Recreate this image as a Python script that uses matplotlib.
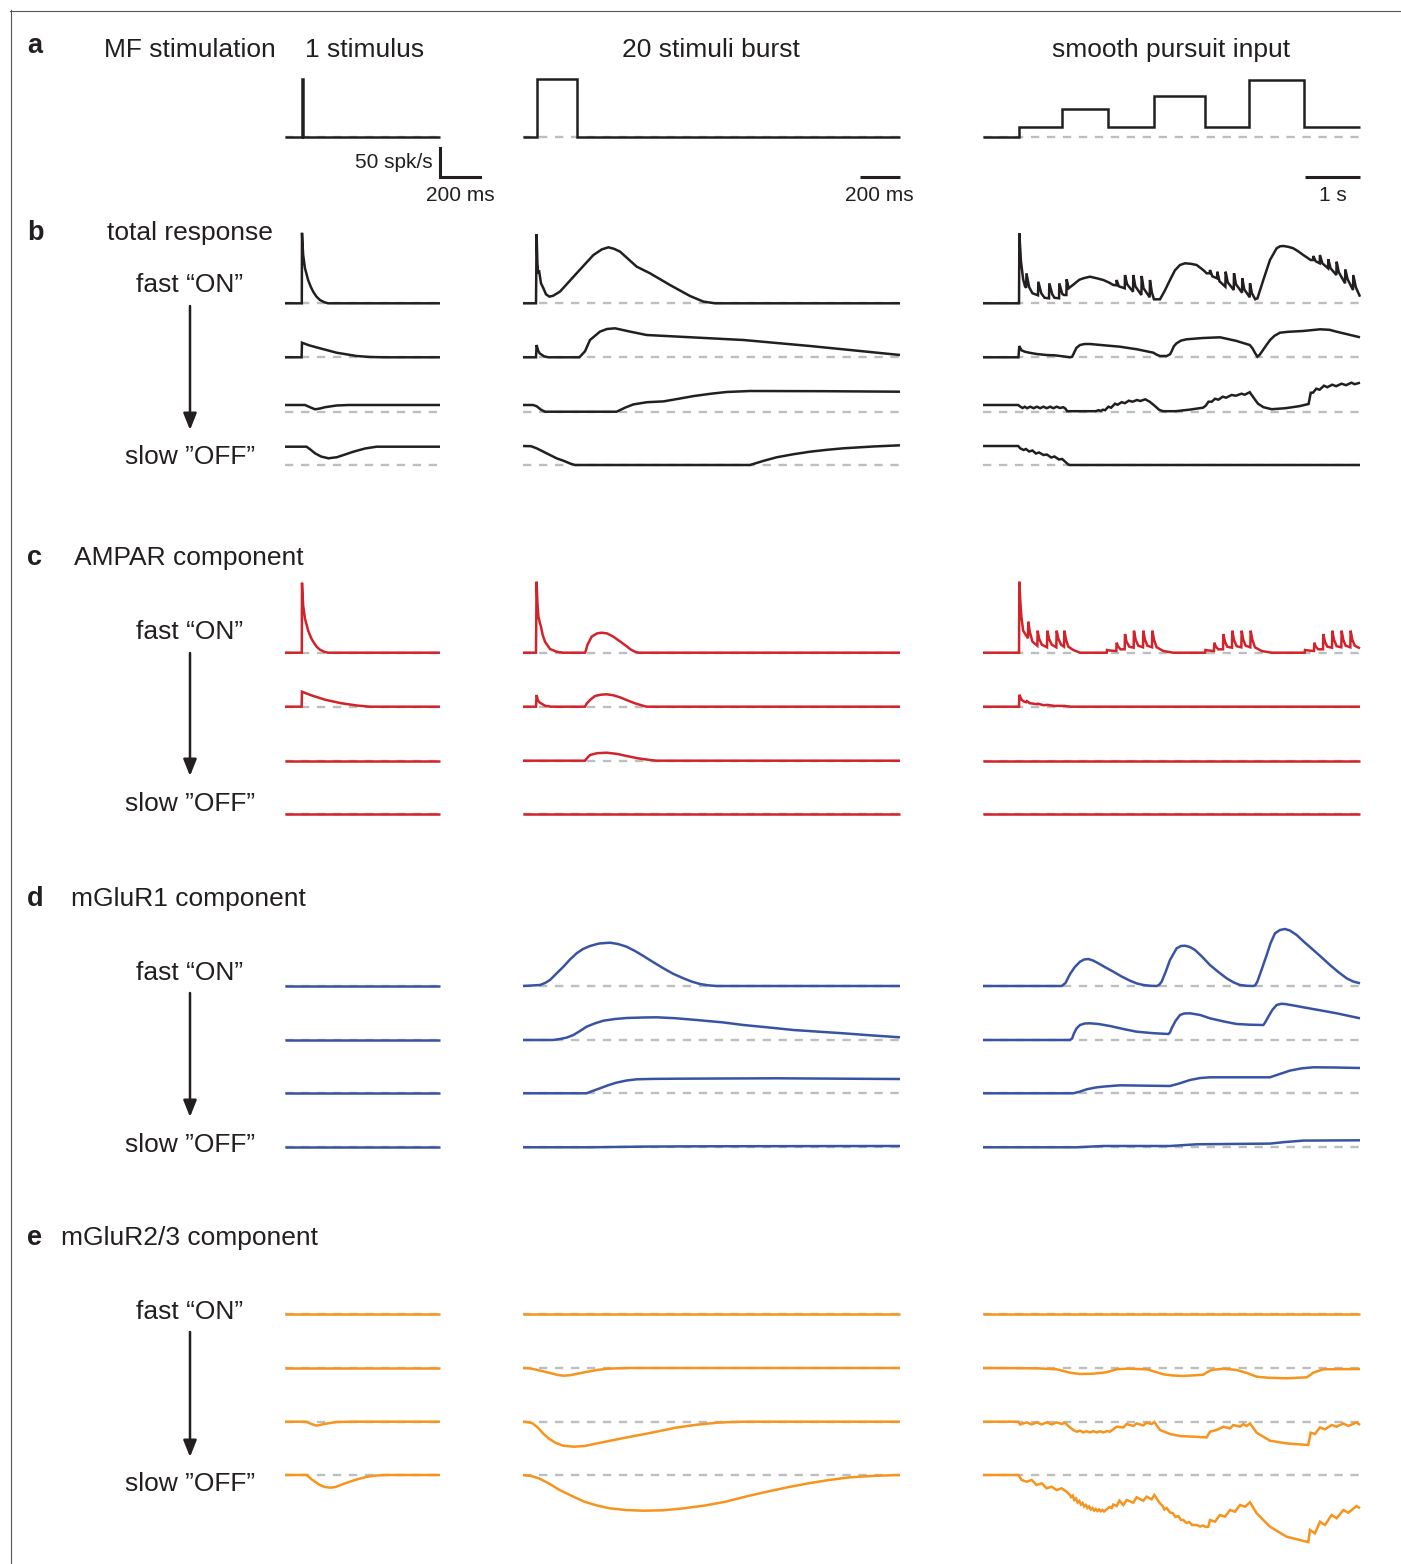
import matplotlib
matplotlib.use('Agg')
import matplotlib.pyplot as plt

W, H = 1401, 1564
plt.rcParams['font.family'] = ['Liberation Sans', 'DejaVu Sans']
plt.rcParams['lines.scale_dashes'] = False

# ---------------- time spans of the three columns ----------------
T_ONE = 775.0      # ms  (1 stimulus)
T_BURST = 1885.0   # ms  (20 stimuli burst)
T_SP = 6.855       # s   (smooth pursuit input)

# ---------------- a: MF stimulation (spk/s) ----------------
stim_one_t = [0, 84, 84, 89, 89, T_ONE]
stim_one_r = [0, 0, 100, 100, 0, 0]
stim_burst_t = [0, 70, 70, 270, 270, T_BURST]
stim_burst_r = [0, 0, 100, 100, 0, 0]
stim_sp_t = [0, 0.655, 1.43, 2.27, 3.11, 4.04, 4.84, 5.84, T_SP]
stim_sp_r = [0, 16, 48, 16, 70, 16, 98, 16, 16]

flat_one_t = [0, T_ONE]
flat_burst_t = [0, T_BURST]
flat_sp_t = [0, T_SP]
flat_a = [0, 0]

# ---------------- b: total response (a.u.) ----------------
tot1_one_t = [0, 84, 85, 88, 91, 100, 116, 130, 141, 158, 175, 195, 215, T_ONE]
tot1_one_a = [0, 0, 70.5, 58, 48, 35, 23, 16, 11.6, 6.5, 3.3, 1.2, 0, 0]
tot2_one_t = [0, 83, 85, 120, 175, 258, 358, 425, 500, T_ONE]
tot2_one_a = [0, 0, 14.6, 12, 9, 4.6, 1.3, 0.3, 0, 0]
tot3_one_t = [0, 100, 125, 150, 175, 200, 258, 320, T_ONE]
tot3_one_a = [6.7, 6.7, 4.5, 2.4, 3.2, 4.5, 6.2, 6.7, 6.7]
tot4_one_t = [0, 108, 130, 150, 180, 217, 260, 342, 400, 458, T_ONE]
tot4_one_a = [18.3, 18.3, 15, 11.7, 8.5, 6.7, 7.8, 13.3, 16.5, 18.3, 18.3]

tot1_burst_t = [0, 65, 68, 72, 76, 80, 90, 102, 115, 132, 150, 185, 268, 352, 395, 427,
                455, 485, 568, 635, 735, 835, 902, 960, T_BURST]
tot1_burst_a = [0, 0, 69.3, 40, 30, 33, 20, 15, 9, 6.7, 7.5, 11.7, 30, 48.3, 54, 56,
                54.5, 51.7, 36.7, 30, 18.3, 7.3, 1.7, 0, 0]
tot2_burst_t = [0, 65, 68, 75, 83, 105, 127, 282, 310, 335, 385, 420, 460, 535, 618,
                1102, 1435, T_BURST]
tot2_burst_a = [0, 0, 12.3, 7, 4, 1, 0, 0, 6, 17.3, 25.7, 28.3, 29, 25.7, 22.3,
                17.3, 11.3, 2.3]
tot3_burst_t = [0, 50, 68, 90, 110, 468, 510, 552, 620, 702, 780, 852, 940, 1018, 1135,
                1500, T_BURST]
tot3_burst_a = [6.7, 6.7, 5.5, 2, 0, 0, 4, 7.3, 9.5, 10.3, 13, 15.6, 18, 19.7, 20.7,
                20.5, 20]
tot4_burst_t = [0, 40, 68, 100, 135, 170, 202, 235, 260, 1135, 1200, 1268, 1350, 1435,
                1520, 1602, 1750, T_BURST]
tot4_burst_a = [19, 18.8, 16.7, 13.5, 10, 6.5, 4.3, 1.5, 0, 0, 4, 7.7, 10.7, 13.3,
                15.2, 16.7, 18.5, 19.7]

tot1_sp_t = [0, 0.655, 0.661, 0.69, 0.73, 0.764, 0.785, 0.79, 0.84, 0.90, 1.0, 1.006,
             1.06, 1.12, 1.20, 1.206, 1.26, 1.30, 1.383, 1.388, 1.44, 1.47, 1.516, 1.521,
             1.558, 1.65, 1.75, 1.824, 1.945, 2.07, 2.188, 2.30, 2.37, 2.425, 2.43, 2.47,
             2.577, 2.582, 2.62, 2.728, 2.733, 2.77, 2.88, 2.885, 2.92, 3.031, 3.036,
             3.07, 3.109, 3.218, 3.30, 3.40, 3.49, 3.582, 3.673, 3.78, 3.885, 4.0, 4.067,
             4.122, 4.127, 4.17, 4.256, 4.261, 4.30, 4.407, 4.412, 4.45, 4.559, 4.564,
             4.60, 4.71, 4.715, 4.75, 4.85, 4.855, 4.89, 4.95, 4.99, 5.097, 5.218, 5.339,
             5.40, 5.461, 5.55, 5.642, 5.73, 5.824, 5.958, 6.0, 6.006, 6.05, 6.122,
             6.127, 6.17, 6.274, 6.279, 6.32, 6.425, 6.43, 6.47, 6.583, 6.588, 6.63,
             6.728, 6.733, 6.78, T_SP]
tot1_sp_a = [0, 0, 70, 42, 24, 17, 15.5, 30, 16, 10, 8, 21.6,
             10, 5.5, 5, 20, 9, 5.5, 5, 20, 9.5, 8.3, 8.3, 24,
             15, 19, 23.5, 25, 26.6, 25, 23.3, 20.5, 18.3, 18, 23.3, 17,
             15, 28.3, 19, 11.6, 28.3, 17, 8.3, 27.3, 15, 6, 23.3,
             11, 4, 4, 12, 23.3, 33, 38.3, 40, 39.5, 38.3, 33.5, 30,
             30, 33.3, 27, 25, 31.6, 22, 16.6, 31.6, 21, 13.3, 30,
             19, 10.6, 25, 14, 6, 20, 10, 4, 5, 23.3, 43.3, 55,
             57, 57.3, 56.5, 55, 52, 48.3, 43.3, 43.3, 47.3, 42, 40,
             48.3, 40, 35, 44, 35, 28.3, 41.6, 31, 20, 34, 24,
             13.3, 28.3, 16, 6.6]
tot2_sp_t = [0, 0.645, 0.66, 0.70, 0.76, 0.85, 0.976, 1.15, 1.30, 1.45, 1.58, 1.62, 1.66,
             1.70, 1.764, 1.85, 1.945, 2.2, 2.49, 2.8, 3.10, 3.16, 3.22, 3.34, 3.40, 3.43,
             3.47, 3.52, 3.60, 3.70, 4.0, 4.31, 4.6, 4.85, 4.90, 4.95, 4.99, 5.03, 5.07,
             5.15, 5.22, 5.30, 5.40, 5.55, 5.82, 6.13, 6.30, 6.43, T_SP]
tot2_sp_a = [0, 0, 11.3, 7, 5.6, 4.5, 3.3, 2.3, 2, 1, 0, 0.5, 5,
             9.5, 12.3, 13.3, 13.3, 12, 10.6, 8, 4.6, 2.5, 1.3, 1.3, 3, 6,
             11, 14, 16.7, 18, 19.3, 20, 16.5, 12.3, 9, 4, 0.6, 2.5, 5.6,
             12, 17.3, 21.5, 24.6, 25.5, 26.3, 28, 27.5, 25.6, 20]
tot3_sp_t = [0, 0.64, 0.68, 0.72, 0.76, 0.8, 0.86, 0.92, 0.98, 1.04, 1.1, 1.16, 1.22,
             1.28, 1.34, 1.40, 1.46, 1.50, 1.53, 2.05, 2.10, 2.14, 2.18, 2.22, 2.28, 2.33,
             2.40, 2.45, 2.52, 2.58, 2.65, 2.72, 2.80, 2.86, 2.95, 3.03, 3.12, 3.2, 3.27,
             3.5, 3.75, 4.0, 4.05, 4.1, 4.16, 4.22, 4.28, 4.36, 4.42, 4.52, 4.6, 4.7, 4.76,
             4.85, 4.92, 5.0, 5.1, 5.25, 5.5, 5.75, 5.92, 5.96, 6.0, 6.06, 6.12, 6.2,
             6.26, 6.35, 6.42, 6.52, 6.6, 6.7, 6.76, T_SP]
tot3_sp_a = [6.7, 6.7, 5, 3.7, 5, 3.5, 5, 3.5, 5, 3.5, 5, 3.5, 5,
             3.5, 5, 3.7, 4.5, 3, 0.5, 0.5, 1.5, 0.8, 2, 1.5, 5, 4,
             8, 7, 9.5, 8.5, 11, 10, 11.7, 10.7, 12.4, 10, 6, 2, 0.5,
             0.5, 2, 4, 6, 10, 10, 13, 12, 15, 14, 16.7, 16, 18, 17,
             19.5, 14, 8, 4.5, 2.5, 3.5, 5.5, 7.7, 19, 19, 23, 22, 26,
             24.5, 27, 25.5, 28, 26.5, 29, 27.5, 29]
tot4_sp_t = [0, 0.64, 0.68, 0.74, 0.78, 0.84, 0.9, 0.96, 1.02, 1.1, 1.16, 1.24, 1.30,
             1.38, 1.44, 1.50, 1.55, 1.58, T_SP]
tot4_sp_a = [19, 19, 16.5, 15, 16, 13.5, 14.5, 11.5, 12.5, 10, 10.5, 7.5, 8.5,
             5.5, 6, 3, 0.5, 0, 0]

# ---------------- c: AMPAR component ----------------
ampa1_one_t = [0, 84, 85, 88, 91, 100, 116, 130, 141, 158, 175, 195, 215, T_ONE]
ampa1_one_a = [0, 0, 70, 57, 47, 34, 22, 15, 11, 6, 3, 1, 0, 0]
ampa2_one_t = [0, 83, 85, 130, 200, 280, 360, 425, T_ONE]
ampa2_one_a = [0, 0, 15, 11.5, 7, 3.5, 1.2, 0, 0]

ampa1_burst_t = [0, 65, 68, 72, 77, 85, 90, 98, 110, 135, 168, 200, 310, 315, 322, 343,
                 370, 393, 420, 452, 480, 510, 540, 560, 577, T_BURST]
ampa1_burst_a = [0, 0, 71, 50, 36, 29.4, 26, 18, 11, 3.7, 1, 0, 0, 2.5, 7.7, 16,
                 19.3, 20, 19.3, 16, 12, 7.7, 3, 1, 0, 0]
ampa2_burst_t = [0, 65, 68, 75, 85, 110, 140, 310, 318, 335, 360, 390, 418, 450, 485,
                 520, 560, 600, 618, T_BURST]
ampa2_burst_a = [0, 0, 11.7, 6, 4, 1, 0, 0, 3, 6.7, 10.7, 12, 12.4, 11.5, 9.4,
                 6.5, 3.4, 1, 0, 0]
ampa3_burst_t = [0, 310, 320, 335, 370, 418, 470, 518, 580, 635, 668, T_BURST]
ampa3_burst_a = [0, 0, 2.5, 5.7, 7.5, 8, 6.8, 4.7, 2.2, 0.7, 0, 0]

ampa1_sp_t = [0, 0.655, 0.661, 0.68, 0.70, 0.73, 0.818, 0.824, 0.85, 0.90, 0.988, 0.994,
              1.02, 1.07, 1.164, 1.17, 1.20, 1.25, 1.333, 1.339, 1.37, 1.42, 1.473,
              1.479, 1.51, 1.552, 1.642, 1.764, 2.25, 2.255, 2.30, 2.424, 2.43, 2.46,
              2.50, 2.576, 2.582, 2.61, 2.661, 2.739, 2.745, 2.775, 2.824, 2.909, 2.915,
              2.945, 2.99, 3.073, 3.079, 3.11, 3.158, 3.279, 3.46, 4.04, 4.045, 4.10,
              4.20, 4.206, 4.235, 4.279, 4.364, 4.37, 4.40, 4.442, 4.527, 4.533, 4.563,
              4.612, 4.697, 4.703, 4.733, 4.776, 4.861, 4.867, 4.897, 4.945, 5.067, 5.248,
              5.85, 5.855, 5.92, 6.018, 6.024, 6.05, 6.097, 6.182, 6.188, 6.218, 6.261,
              6.346, 6.352, 6.382, 6.43, 6.515, 6.521, 6.551, 6.594, 6.679, 6.685, 6.715,
              6.76, T_SP]
ampa1_sp_a = [0, 0, 71, 50, 35, 22, 14.4, 31, 21, 11, 7, 22,
              14, 8, 5.4, 22, 14, 8, 5.4, 22, 14, 8, 6,
              22, 13, 6, 2.7, 0, 0, 2.7, 2.2, 1.7, 10, 6,
              3.4, 3.4, 18.7, 11, 6, 5, 22, 13, 7, 5.4, 22,
              13, 7, 5.4, 22, 13, 5.4, 1.7, 0, 0, 2.7, 2.2,
              1.7, 10, 6, 3.4, 3.4, 18.7, 11, 6, 5, 22, 13,
              6.5, 5.4, 22, 13, 7, 5.4, 22, 13, 5.4, 1.7, 0,
              0, 2.7, 2.2, 1.7, 10, 6, 3.4, 3.4, 18.7, 11, 6,
              5, 22, 13, 6.5, 5.4, 22, 13, 7, 5.4, 22, 13,
              7, 4.4]
ampa2_sp_t = [0, 0.655, 0.661, 0.70, 0.75, 0.79, 0.80, 0.85, 0.99, 1.0, 1.1, 1.17, 1.3,
              1.48, 1.6, T_SP]
ampa2_sp_a = [0, 0, 12, 7, 5, 4.5, 5.5, 3.5, 2.5, 3, 1.5, 1.8, 0.8, 0.8, 0, 0]

# ---------------- d: mGluR1 component ----------------
mglu1_1_burst_t = [0, 85, 110, 135, 170, 202, 235, 268, 300, 335, 380, 435, 475, 518, 560,
                   602, 650, 702, 750, 802, 845, 885, 925, 968, T_BURST]
mglu1_1_burst_a = [0, 1, 3, 6, 13, 19.3, 26.5, 32.7, 37, 40, 42.5, 43.3, 42, 39.3, 35,
                   30, 24, 17.7, 12.3, 7.7, 4.3, 2, 0.7, 0, 0]
mglu1_2_burst_t = [0, 150, 185, 220, 252, 285, 318, 360, 402, 460, 518, 600, 668, 760, 868,
                   1000, 1102, 1230, 1352, 1480, 1602, 1750, T_BURST]
mglu1_2_burst_a = [0, 0, 1, 2.5, 5, 9, 13.3, 16.7, 19.3, 21, 22, 22.5, 22.7, 21.8, 20,
                   17.6, 15, 12.5, 10, 8.3, 6.7, 4.5, 2.7]
mglu1_3_burst_t = [0, 318, 350, 385, 425, 468, 518, 568, 650, 768, 1000, 1268, 1600, T_BURST]
mglu1_3_burst_a = [0, 0, 2.5, 5, 8, 10.7, 12.8, 14, 14.4, 14.6, 14.8, 15, 14.6, 14.3]
mglu1_4_burst_t = [0, 340, 450, 602, 800, 935, 1200, 1500, T_BURST]
mglu1_4_burst_a = [0, 0, 0.3, 0.7, 0.9, 1, 1.1, 1.2, 1.3]

mglu1_1_sp_t = [0, 1.43, 1.50, 1.582, 1.67, 1.764, 1.84, 1.915, 2.0, 2.097, 2.23, 2.37,
                2.52, 2.673, 2.80, 2.915, 3.05, 3.158, 3.2, 3.248, 3.32, 3.4, 3.521, 3.60,
                3.673, 3.76, 3.855, 3.98, 4.127, 4.28, 4.43, 4.56, 4.673, 4.80, 4.915,
                4.95, 4.988, 5.07, 5.158, 5.23, 5.309, 5.40, 5.491, 5.58, 5.703, 5.85,
                6.006, 6.16, 6.309, 6.46, 6.612, 6.73, T_SP]
mglu1_1_sp_a = [0, 0, 3, 12, 19, 24.3, 26.5, 27, 25.5, 22.7, 18.5, 14.3,
                9.5, 5.3, 2.5, 1, 0.2, 0, 1, 4.3, 14, 26, 37.7, 40,
                40.3, 39, 36, 29.5, 21, 14, 7.7, 3.5, 1, 0.2, 0,
                0.8, 4.3, 17, 31, 43, 52.7, 56, 57, 55.5, 51, 43.5,
                36, 28.5, 21, 14, 7.7, 4.5, 2.7]
mglu1_2_sp_t = [0, 1.582, 1.62, 1.655, 1.70, 1.764, 1.85, 1.945, 2.1, 2.309, 2.55, 2.794,
                3.1, 3.37, 3.40, 3.43, 3.50, 3.582, 3.66, 3.764, 3.95, 4.127, 4.38, 4.612,
                4.85, 5.097, 5.13, 5.188, 5.26, 5.339, 5.42, 5.491, 5.65, 5.824, 6.1,
                6.43, T_SP]
mglu1_2_sp_a = [0, 0, 1.5, 6.7, 11.5, 15, 16.5, 16.7, 16, 14, 11, 8.3,
                6.8, 6, 7.5, 11.7, 19, 25, 26.5, 26.7, 25, 21.7, 18.5, 16,
                15.3, 15, 17.5, 23.3, 30, 35, 36.2, 36, 34.5, 32.7, 30,
                26.7, 21.7]
mglu1_3_sp_t = [0, 1.642, 1.75, 1.885, 2.05, 2.188, 2.491, 3.0, 3.4, 3.55, 3.764, 3.95,
                4.127, 4.6, 5.218, 5.38, 5.582, 5.8, 6.006, 6.4, T_SP]
mglu1_3_sp_a = [0, 0, 1.5, 4, 5.8, 6.7, 8, 7.6, 7.3, 9.5, 13.3, 15.3,
                16, 16, 16, 19, 22.7, 25, 26, 25.8, 25.3]
mglu1_4_sp_t = [0, 1.703, 2.0, 2.188, 3.4, 3.65, 3.885, 5.218, 5.5, 5.824, T_SP]
mglu1_4_sp_a = [0, 0, 0.8, 1.3, 1.3, 2.2, 3, 3.7, 5.3, 6.7, 7]

# ---------------- e: mGluR2/3 component ----------------
mglu23_3_one_t = [0, 105, 133, 158, 195, 257, 340, T_ONE]
mglu23_3_one_a = [0, 0, -2.3, -4, -2.3, -0.3, 0, 0]
mglu23_4_one_t = [0, 108, 133, 174, 200, 226, 252, 278, 320, 361, 400, 444, 506, T_ONE]
mglu23_4_one_a = [0, 0, -4.3, -10, -12, -12.7, -12, -10, -7, -4.3, -2.2, -0.7, 0, 0]

mglu23_2_burst_t = [0, 30, 58, 100, 141, 175, 203, 235, 266, 320, 369, 420, 473, 535, T_BURST]
mglu23_2_burst_a = [0, -0.3, -1.3, -3.3, -5.3, -7, -7.7, -7.2, -6, -3.8, -2, -0.8, -0.3, 0, 0]
mglu23_3_burst_t = [0, 25, 48, 75, 100, 130, 162, 200, 255, 307, 400, 494, 630, 764, 870,
                    971, 1040, 1116, T_BURST]
mglu23_3_burst_a = [0, -0.5, -1.7, -6, -11.7, -17, -21, -24, -25, -24.3, -20.5, -16.7,
                    -11.5, -6, -3, -1, -0.3, 0, 0]
mglu23_4_burst_t = [0, 40, 79, 130, 183, 245, 307, 370, 432, 515, 598, 700, 805, 910, 1013,
                    1115, 1220, 1325, 1428, 1530, 1635, 1760, T_BURST]
mglu23_4_burst_a = [0, -1, -3.3, -8.5, -15, -21, -26.7, -30.5, -33.3, -35, -35.7, -35.3,
                    -33.3, -30.5, -26.7, -21.5, -16.7, -12.2, -8.3, -5, -2.3, -0.8, 0]

mglu23_2_sp_t = [0, 0.976, 1.339, 1.46, 1.582, 1.764, 2.0, 2.248, 2.43, 2.612, 2.976, 3.1,
                 3.279, 3.45, 3.642, 4.006, 4.08, 4.158, 4.37, 4.612, 4.8, 4.976, 5.2,
                 5.521, 5.885, 5.95, 6.006, 6.188, T_SP]
mglu23_2_sp_a = [0, -0.3, -1.3, -3, -4.7, -6, -5.7, -4.3, -1.3, -0.7, -1.3, -3.3,
                 -6.3, -7.5, -8, -6.7, -4, -2, -0.7, -2, -5, -8.7, -9.8,
                 -10.3, -9.3, -7, -4.7, -1.3, -1]
mglu23_3_sp_t = [0, 0.642, 0.673, 0.794, 0.885, 0.976, 1.067, 1.158, 1.248, 1.339, 1.43,
                 1.491, 1.552, 1.642, 1.703, 1.764, 1.824, 1.885, 1.945, 2.006, 2.067,
                 2.127, 2.188, 2.248, 2.309, 2.43, 2.552, 2.612, 2.733, 2.794, 2.915,
                 2.976, 3.067, 3.115, 3.218, 3.4, 3.582, 4.067, 4.127, 4.248, 4.37, 4.491,
                 4.552, 4.673, 4.733, 4.794, 4.855, 4.976, 5.218, 5.521, 5.915, 5.958,
                 6.036, 6.127, 6.218, 6.339, 6.43, 6.552, 6.642, 6.794, T_SP]
mglu23_3_sp_a = [0, 0, -2.7, -0.7, -2.7, -0.7, -2.7, -0.7, -2.7, -0.7, -2.3,
                 -1, -4.3, -8.3, -10, -9, -10.7, -9.5, -10.7, -9.5, -10.7,
                 -9.5, -10.7, -9.5, -10, -5, -5.7, -2.3, -4.3, -1.7, -3.7,
                 -1, -2.3, -0.3, -8.3, -12.3, -14.3, -15.7, -10, -8.3, -5, -6.7,
                 -3.3, -5, -2.3, -4.3, -1.7, -11, -19, -21.7, -23.3, -11,
                 -12.3, -5.7, -7.7, -3.3, -5, -1.7, -4.3, -0.7, -3.3]
mglu23_4_sp_t = [0, 0.642, 0.703, 0.794, 0.885, 0.976, 1.067, 1.158, 1.248, 1.339, 1.43,
                 1.521, 1.582, 1.60, 1.63, 1.66, 1.69, 1.72, 1.75, 1.78, 1.81, 1.84, 1.87,
                 1.90, 1.93, 1.96, 1.99, 2.02, 2.05, 2.08, 2.11, 2.14, 2.17, 2.20, 2.25,
                 2.30, 2.34, 2.37, 2.43, 2.48, 2.552, 2.612, 2.733, 2.794, 2.915, 2.976,
                 3.067, 3.115, 3.218, 3.26, 3.30, 3.34, 3.4, 3.45, 3.50, 3.55, 3.60, 3.642,
                 3.70, 3.75, 3.80, 3.885, 3.95, 4.0, 4.05, 4.097, 4.127, 4.218, 4.309,
                 4.4, 4.491, 4.582, 4.673, 4.764, 4.855, 4.976, 5.218, 5.521, 5.885,
                 5.915, 5.945, 6.036, 6.127, 6.218, 6.339, 6.43, 6.552, 6.642, 6.794, T_SP]
mglu23_4_sp_a = [0, 0, -5, -6.7, -5, -10, -8.3, -13.3, -11.7, -15, -13.3,
                 -16.7, -20, -22, -20.5, -25, -23.5, -27.5, -26, -29.5, -28, -31.5, -30,
                 -33, -31.5, -34.5, -33, -35.5, -34, -36, -34.5, -36.3, -35, -36.5, -34.3,
                 -32, -33, -29.5, -31, -25.7, -30, -25, -27.7, -22.3, -25.7, -21.7,
                 -24.3, -20, -28.3, -30.5, -34.5, -33, -37.5, -38, -42, -41, -45, -45,
                 -48, -47, -50, -50, -51.5, -50.5, -52, -51.7, -45, -46.7, -40,
                 -41.7, -35, -36.7, -30, -31.7, -27.3, -38.3, -51.7, -61.7, -66.7,
                 -67, -55, -58.3, -46.7, -50, -40, -43.3, -35, -37.7, -31, -33.3]

# ---------------- layout / style ----------------
BLACK, RED, BLUE, ORANGE, DASH = '#231f20', '#d2232a', '#3953a4', '#f7941d', '#bcbec0'
COLS = [(285, 440, T_ONE), (523, 900, T_BURST), (983, 1360, T_SP)]
STIM_BASE = 136.5
PX_PER_SPK = 29 / 50.0
SEC_BASE = {
    'b': [303.3, 357.3, 411.7, 465.0],
    'c': [652.7, 706.7, 760.7, 814.0],
    'd': [986.0, 1040.0, 1093.3, 1147.3],
    'e': [1314.0, 1368.0, 1421.7, 1475.0],
}
LW = 1.8

fig = plt.figure(figsize=(W / 100, H / 100), dpi=100)
ov = fig.add_axes([0, 0, 1, 1])
ov.set_xlim(0, W)
ov.set_ylim(H, 0)
ov.axis('off')

col_axes = []
for x0, x1, T in COLS:
    ax = fig.add_axes([x0 / W, 0, (x1 - x0) / W, 1])
    ax.set_xlim(0, T)
    ax.set_ylim(H, 0)
    ax.axis('off')
    col_axes.append(ax)


def draw(ci, base, t, a, color, scale=1.0, step=False):
    ax = col_axes[ci]
    T = COLS[ci][2]
    ax.plot([0, T], [base, base], color=DASH, lw=1.7, ls=(0, (6.0, 5.5)),
            zorder=1, clip_on=False, solid_capstyle='butt', dash_capstyle='butt')
    ys = [base - v * scale for v in a]
    ax.plot(t, ys, color=color, lw=LW, zorder=2, clip_on=False,
            drawstyle='steps-post' if step else 'default',
            solid_joinstyle='miter', solid_capstyle='butt')


# row a
draw(0, STIM_BASE, stim_one_t, stim_one_r, BLACK, PX_PER_SPK)
draw(1, STIM_BASE, stim_burst_t, stim_burst_r, BLACK, PX_PER_SPK)
draw(2, STIM_BASE, stim_sp_t, stim_sp_r, BLACK, PX_PER_SPK, step=True)

traces = {
    'b': (BLACK, [
        [(tot1_one_t, tot1_one_a), (tot1_burst_t, tot1_burst_a), (tot1_sp_t, tot1_sp_a)],
        [(tot2_one_t, tot2_one_a), (tot2_burst_t, tot2_burst_a), (tot2_sp_t, tot2_sp_a)],
        [(tot3_one_t, tot3_one_a), (tot3_burst_t, tot3_burst_a), (tot3_sp_t, tot3_sp_a)],
        [(tot4_one_t, tot4_one_a), (tot4_burst_t, tot4_burst_a), (tot4_sp_t, tot4_sp_a)]]),
    'c': (RED, [
        [(ampa1_one_t, ampa1_one_a), (ampa1_burst_t, ampa1_burst_a), (ampa1_sp_t, ampa1_sp_a)],
        [(ampa2_one_t, ampa2_one_a), (ampa2_burst_t, ampa2_burst_a), (ampa2_sp_t, ampa2_sp_a)],
        [(flat_one_t, flat_a), (ampa3_burst_t, ampa3_burst_a), (flat_sp_t, flat_a)],
        [(flat_one_t, flat_a), (flat_burst_t, flat_a), (flat_sp_t, flat_a)]]),
    'd': (BLUE, [
        [(flat_one_t, flat_a), (mglu1_1_burst_t, mglu1_1_burst_a), (mglu1_1_sp_t, mglu1_1_sp_a)],
        [(flat_one_t, flat_a), (mglu1_2_burst_t, mglu1_2_burst_a), (mglu1_2_sp_t, mglu1_2_sp_a)],
        [(flat_one_t, flat_a), (mglu1_3_burst_t, mglu1_3_burst_a), (mglu1_3_sp_t, mglu1_3_sp_a)],
        [(flat_one_t, flat_a), (mglu1_4_burst_t, mglu1_4_burst_a), (mglu1_4_sp_t, mglu1_4_sp_a)]]),
    'e': (ORANGE, [
        [(flat_one_t, flat_a), (flat_burst_t, flat_a), (flat_sp_t, flat_a)],
        [(flat_one_t, flat_a), (mglu23_2_burst_t, mglu23_2_burst_a), (mglu23_2_sp_t, mglu23_2_sp_a)],
        [(mglu23_3_one_t, mglu23_3_one_a), (mglu23_3_burst_t, mglu23_3_burst_a), (mglu23_3_sp_t, mglu23_3_sp_a)],
        [(mglu23_4_one_t, mglu23_4_one_a), (mglu23_4_burst_t, mglu23_4_burst_a), (mglu23_4_sp_t, mglu23_4_sp_a)]]),
}
for sec, (color, rows) in traces.items():
    for ri, row in enumerate(rows):
        for ci, (t, a) in enumerate(row):
            draw(ci, SEC_BASE[sec][ri], t, a, color)

# scale bars
bar_y = 177
col_axes[0].plot([T_ONE, T_ONE, T_ONE + 200], [bar_y - 50 * PX_PER_SPK, bar_y, bar_y],
                 color=BLACK, lw=2.2, clip_on=False, solid_joinstyle='miter')
col_axes[1].plot([T_BURST - 200, T_BURST], [bar_y, bar_y], color=BLACK, lw=2.2,
                 clip_on=False, solid_capstyle='butt')
col_axes[2].plot([T_SP - 1.0, T_SP], [bar_y, bar_y], color=BLACK, lw=2.2,
                 clip_on=False, solid_capstyle='butt')

FS = 19
FS_SMALL = 15
TXT = '#231f20'
ov.text(433, 168, '50 spk/s', fontsize=FS_SMALL, ha='right', va='baseline', color=TXT)
ov.text(460, 201, '200 ms', fontsize=FS_SMALL, ha='center', va='baseline', color=TXT)
ov.text(879, 201, '200 ms', fontsize=FS_SMALL, ha='center', va='baseline', color=TXT)
ov.text(1333, 201, '1 s', fontsize=FS_SMALL, ha='center', va='baseline', color=TXT)

ov.text(104, 57, 'MF stimulation', fontsize=FS, ha='left', va='baseline', color=TXT)
ov.text(305, 57, '1 stimulus', fontsize=FS, ha='left', va='baseline', color=TXT)
ov.text(711, 57, '20 stimuli burst', fontsize=FS, ha='center', va='baseline', color=TXT)
ov.text(1171, 57, 'smooth pursuit input', fontsize=FS, ha='center', va='baseline', color=TXT)

letters = [('a', 53), ('b', 240), ('c', 565), ('d', 906), ('e', 1245)]
for s, y in letters:
    ov.text(35, y, s, fontsize=FS + 0.5, fontweight='bold', ha='center', va='baseline', color=TXT)

titles = [(107, 240, 'total response'), (74, 565, 'AMPAR component'),
          (71, 906, 'mGluR1 component'), (61, 1245, 'mGluR2/3 component')]
for x, y, s in titles:
    ov.text(x, y, s, fontsize=FS, ha='left', va='baseline', color=TXT)

groups = [(292, 306, 430, 464), (639, 653, 776, 811), (980, 993, 1117, 1152),
          (1319, 1332, 1457, 1491)]
for yon, ya0, ya1, yoff in groups:
    ov.text(190, yon, 'fast \u201cON\u201d', fontsize=FS, ha='center', va='baseline', color=TXT)
    ov.text(190, yoff, 'slow \u201dOFF\u201d', fontsize=FS, ha='center', va='baseline', color=TXT)
    ov.annotate('', xy=(190, ya1), xytext=(190, ya0),
                arrowprops=dict(arrowstyle='-|>,head_length=1.0,head_width=0.4',
                                color=BLACK, lw=1.8, shrinkA=0, shrinkB=0))

# frame lines (top and left)
ov.plot([10, W], [10.5, 10.5], color='#555555', lw=0.8)
ov.plot([10.5, 10.5], [10, H], color='#555555', lw=0.8)

fig.savefig('out.png', dpi=100)
